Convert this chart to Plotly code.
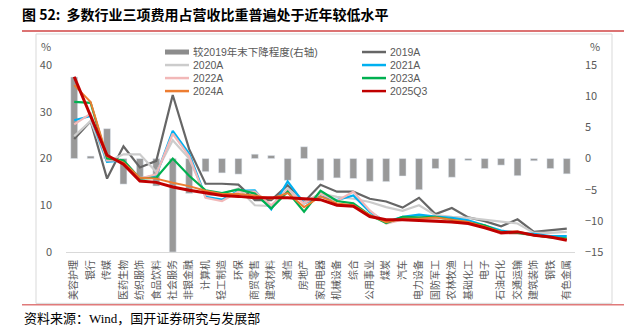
import plotly.graph_objects as go

categories = ["美容护理", "银行", "传媒", "医药生物", "纺织服饰", "食品饮料", "社会服务", "非银金融",
              "计算机", "轻工制造", "环保", "商贸零售", "建筑材料", "通信", "房地产", "家用电器",
              "机械设备", "综合", "公用事业", "煤炭", "汽车", "电力设备", "国防军工", "农林牧渔",
              "基础化工", "电子", "石油石化", "交通运输", "建筑装饰", "钢铁", "有色金属"]

decline_vs_2019 = [13.1, 0.4, 4.8, -4.1, -3.0, -4.4, -15.0, -5.6, -2.1, -2.3, -2.5, 0.7, 0.5, -3.5, 1.9,
                   -3.5, -3.1, -3.2, -3.65, -3.7, -2.8, -5.0, -1.6, -3.0, -0.3, -1.6, -1.05, -2.75, -0.35,
                   -1.6, -2.45]

y2019 = [24.2, 28.0, 15.7, 22.6, 18.1, 19.5, 33.6, 22.0, 14.6, 14.6, 14.4, 11.1, 11.1, 14.3, 10.7, 14.4,
         12.9, 12.9, 11.4, 10.8, 9.5, 11.6, 8.1, 9.4, 7.4, 6.6, 5.5, 7.0, 4.3, 4.6, 5.0]
y2020 = [24.8, 28.0, 19.3, 20.9, 20.9, 17.1, 23.9, 20.0, 12.1, 12.4, 13.6, 10.0, 9.8, 13.6, 10.7, 12.5,
         11.8, 11.4, 10.7, 9.6, 8.8, 10.0, 7.9, 7.5, 7.3, 6.9, 6.4, 6.1, 4.1, 4.1, 4.3]
y2021 = [28.2, 29.1, 19.3, 19.6, 15.7, 16.4, 25.9, 21.0, 11.8, 11.2, 13.1, 13.2, 9.1, 15.1, 10.4, 11.9,
         11.1, 12.1, 8.6, 6.4, 7.5, 8.0, 7.6, 7.3, 6.8, 5.7, 4.6, 4.1, 3.9, 3.4, 3.4]
y2022 = [27.3, 29.6, 19.6, 19.6, 15.7, 16.6, 25.3, 20.5, 11.6, 10.9, 12.9, 12.9, 10.0, 13.2, 10.4, 12.5,
         10.9, 12.9, 8.9, 6.1, 6.9, 7.1, 6.9, 6.4, 6.1, 5.4, 3.9, 4.0, 3.6, 3.2, 2.7]
y2023 = [32.1, 31.9, 20.0, 19.6, 15.7, 15.9, 20.0, 16.3, 13.2, 12.6, 13.4, 12.5, 9.3, 12.9, 8.6, 13.1,
         10.9, 10.4, 7.9, 6.2, 7.5, 7.4, 7.5, 6.9, 6.4, 5.7, 4.3, 4.1, 3.6, 3.1, 2.9]
y2024 = [35.7, 32.1, 20.5, 19.1, 15.9, 15.7, 14.8, 14.1, 13.1, 12.4, 12.4, 12.1, 11.4, 12.6, 9.6, 11.9,
         10.4, 10.0, 7.9, 6.4, 7.1, 7.1, 7.4, 6.9, 6.4, 5.4, 4.3, 4.4, 3.6, 3.2, 2.7]
y2025q3 = [37.5, 29.0, 20.7, 18.8, 15.2, 14.9, 13.9, 13.2, 12.6, 12.1, 11.9, 11.6, 11.6, 11.6, 11.4, 11.2,
           10.0, 9.8, 7.6, 6.9, 6.9, 6.8, 6.6, 6.4, 6.1, 5.2, 4.1, 4.3, 3.6, 3.2, 2.5]

left_ticks = [0, 10, 20, 30, 40]
right_ticks = [-15, -10, -5, 0, 5, 10, 15]

W, H = 629, 335
PL, PR, PT, PB = 66, 575, 34, 251.7

def px2x(px):
    return (px - PL) / (PR - PL)

def px2y(py):
    return (PB - py) / (PB - PT)

FONT = "Noto Sans CJK SC, Microsoft YaHei, sans-serif"
LEG_FONT = "Liberation Sans, Noto Sans CJK SC, sans-serif"
GREY_TXT = "#595959"
BAR_NAME = "较2019年末下降程度(右轴)"
BAR_COLOR = "#999999"

fig = go.Figure()

fig.add_trace(go.Bar(x=categories, y=decline_vs_2019, name=BAR_NAME,
                     marker_color=BAR_COLOR, width=0.42, yaxis="y", showlegend=False))

series = [
    ("2019A", y2019, "#666666", 2.2),
    ("2020A", y2020, "#CCCCCC", 2.2),
    ("2021A", y2021, "#00B0F0", 2.2),
    ("2022A", y2022, "#F2B8B8", 2.2),
    ("2023A", y2023, "#00B050", 2.2),
    ("2024A", y2024, "#ED7D31", 2.0),
    ("2025Q3", y2025q3, "#C00000", 3.0),
]
for name, vals, color, lw in series:
    fig.add_trace(go.Scatter(x=categories, y=vals, name=name, mode="lines",
                             line=dict(color=color, width=lw), yaxis="y2", showlegend=False))

fig.update_layout(
    width=W, height=H,
    margin=dict(l=PL, r=W - PR, t=PT, b=H - PB),
    paper_bgcolor="white", plot_bgcolor="white",
    font=dict(family=FONT, color=GREY_TXT),
    barmode="overlay",
    title=dict(text="<b>图 52:  多数行业三项费用占营收比重普遍处于近年较低水平</b>",
               xref="container", yref="container", x=22 / W, y=1 - 15 / H,
               xanchor="left", yanchor="middle",
               font=dict(family="Noto Sans CJK SC, sans-serif", size=14, color="#000000")),
    xaxis=dict(type="category", range=[-0.5, len(categories) - 0.5], showline=True,
               linecolor="#D9D9D9", linewidth=1, tickangle=-90, ticks="", showgrid=False,
               tickfont=dict(family=FONT, size=10, color=GREY_TXT), ticklabelstandoff=3),
    yaxis=dict(side="right", range=[-15, 20], tickvals=right_ticks, showgrid=False, zeroline=False,
               showline=False, ticks="", tickfont=dict(family=FONT, size=11, color=GREY_TXT),
               ticklabelstandoff=9),
    yaxis2=dict(side="left", overlaying="y", anchor="x", range=[0, (PB - PT) / ((PB - 65) / 40)],
                tickvals=left_ticks, showgrid=False, zeroline=False, showline=False, ticks="",
                tickfont=dict(family=FONT, size=11, color=GREY_TXT), ticklabelstandoff=13),
)

shapes = [
    # chart frame
    dict(type="rect", xref="paper", yref="paper", x0=px2x(36), x1=px2x(612), y0=px2y(303), y1=px2y(34),
         line=dict(color="#D9D9D9", width=1), fillcolor="rgba(0,0,0,0)", layer="below"),
    # title underline
    dict(type="line", xref="paper", yref="paper", x0=px2x(22), x1=px2x(624), y0=px2y(31), y1=px2y(31),
         line=dict(color="#D04545", width=1.5)),
    # bottom rule
    dict(type="line", xref="paper", yref="paper", x0=px2x(22), x1=px2x(624), y0=px2y(304.5), y1=px2y(304.5),
         line=dict(color="#E07A7A", width=1.5)),
]

annotations = [
    dict(text="%", xref="paper", yref="paper", x=px2x(46), y=px2y(46), showarrow=False,
         font=dict(family=FONT, size=11, color=GREY_TXT), xanchor="center", yanchor="middle"),
    dict(text="%", xref="paper", yref="paper", x=px2x(595), y=px2y(46), showarrow=False,
         font=dict(family=FONT, size=11, color=GREY_TXT), xanchor="center", yanchor="middle"),
    dict(text="资料来源：Wind，国开证券研究与发展部", xref="paper", yref="paper", x=px2x(22), y=px2y(318),
         showarrow=False, xanchor="left", yanchor="middle",
         font=dict(family="Liberation Serif, Noto Sans CJK SC, serif", size=13, color="#000000")),
]

# two-column legend (left column: bar, 2020A, 2022A, 2024A; right column: 2019A, 2021A, 2023A, 2025Q3)
row_y = [52, 65, 78, 91]
col_x = [165, 362]
legend_items = [(BAR_NAME, BAR_COLOR, "bar")] + [(n, c, "line") for n, _, c, _ in series]
for k, (name, color, kind) in enumerate(legend_items):
    col = k % 2
    row = k // 2
    x0 = col_x[col]
    yy = row_y[row]
    if kind == "bar":
        shapes.append(dict(type="rect", xref="paper", yref="paper", x0=px2x(x0), x1=px2x(x0 + 24),
                           y0=px2y(yy + 2.5), y1=px2y(yy - 2.5), line=dict(width=0),
                           fillcolor="#8C8C8C"))
    else:
        shapes.append(dict(type="line", xref="paper", yref="paper", x0=px2x(x0), x1=px2x(x0 + 24),
                           y0=px2y(yy), y1=px2y(yy), line=dict(color=color, width=2.5)))
    annotations.append(dict(text=name, xref="paper", yref="paper", x=px2x(x0 + 27), y=px2y(yy),
                            showarrow=False, xanchor="left", yanchor="middle", borderpad=0,
                            font=dict(family=LEG_FONT, size=10.5, color=GREY_TXT)))

fig.update_layout(shapes=shapes, annotations=annotations)

fig.write_html("out.html")
